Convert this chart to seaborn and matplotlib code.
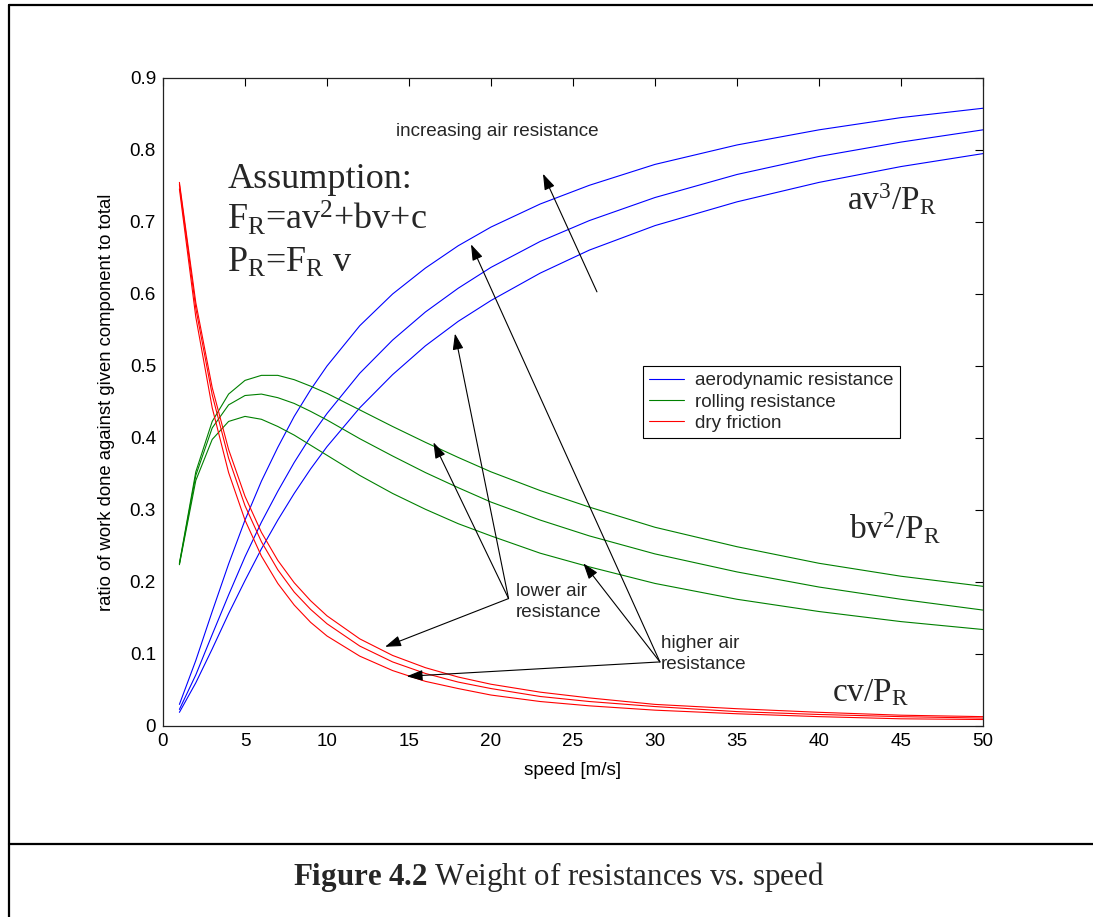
import matplotlib
matplotlib.use("Agg")
import matplotlib.pyplot as plt
import seaborn as sns
import pandas as pd
from matplotlib.lines import Line2D

# ---------------- data ----------------
speed = [1, 2, 3, 4, 5, 6, 7, 8, 9, 10, 12, 14, 16, 18, 20, 23, 26, 30, 35, 40, 45, 50]

# aerodynamic resistance share  a v^3 / P_R
aero_low  = [0.019, 0.060, 0.107, 0.156, 0.202, 0.246, 0.286, 0.323, 0.357, 0.388, 0.442,
             0.488, 0.528, 0.562, 0.591, 0.629, 0.661, 0.695, 0.728, 0.755, 0.777, 0.795]
aero_mid  = [0.023, 0.071, 0.127, 0.182, 0.235, 0.283, 0.326, 0.366, 0.402, 0.434, 0.490,
             0.536, 0.575, 0.608, 0.637, 0.673, 0.702, 0.734, 0.766, 0.791, 0.811, 0.828]
aero_high = [0.030, 0.091, 0.159, 0.225, 0.286, 0.340, 0.387, 0.430, 0.467, 0.500, 0.556,
             0.600, 0.636, 0.667, 0.693, 0.725, 0.751, 0.780, 0.807, 0.828, 0.845, 0.858]

# rolling resistance share  b v^2 / P_R
roll_low  = [0.226, 0.353, 0.423, 0.461, 0.480, 0.487, 0.487, 0.481, 0.472, 0.462, 0.439,
             0.416, 0.394, 0.373, 0.353, 0.327, 0.304, 0.276, 0.249, 0.226, 0.208, 0.194]
roll_mid  = [0.225, 0.348, 0.414, 0.446, 0.459, 0.461, 0.456, 0.448, 0.437, 0.425, 0.399,
             0.375, 0.352, 0.331, 0.311, 0.286, 0.264, 0.239, 0.214, 0.193, 0.176, 0.161]
roll_high = [0.224, 0.341, 0.398, 0.423, 0.430, 0.426, 0.416, 0.404, 0.390, 0.376, 0.348,
             0.323, 0.301, 0.281, 0.264, 0.240, 0.221, 0.198, 0.176, 0.159, 0.145, 0.134]

# dry friction share  c v / P_R
fric_low  = [0.755, 0.588, 0.470, 0.384, 0.319, 0.269, 0.230, 0.199, 0.174, 0.153, 0.121,
             0.098, 0.081, 0.068, 0.058, 0.047, 0.039, 0.030, 0.024, 0.019, 0.015, 0.013]
fric_mid  = [0.752, 0.580, 0.460, 0.372, 0.306, 0.256, 0.217, 0.186, 0.162, 0.142, 0.111,
             0.089, 0.073, 0.061, 0.052, 0.041, 0.034, 0.027, 0.020, 0.016, 0.013, 0.011]
fric_high = [0.746, 0.568, 0.442, 0.352, 0.286, 0.236, 0.198, 0.168, 0.144, 0.125, 0.097,
             0.077, 0.062, 0.052, 0.043, 0.034, 0.028, 0.022, 0.017, 0.013, 0.010, 0.009]

legend_labels = ["aerodynamic resistance", "rolling resistance", "dry friction"]
xticks = [0, 5, 10, 15, 20, 25, 30, 35, 40, 45, 50]
yticks = [0, 0.1, 0.2, 0.3, 0.4, 0.5, 0.6, 0.7, 0.8, 0.9]
yticklabels = ["0", "0.1", "0.2", "0.3", "0.4", "0.5", "0.6", "0.7", "0.8", "0.9"]

# ---------------- style ----------------
sns.set_theme(style="white")
plt.rcParams["font.family"] = ["Liberation Sans", "DejaVu Sans"]
plt.rcParams["mathtext.fontset"] = "custom"
plt.rcParams["mathtext.rm"] = "Liberation Serif"
plt.rcParams["mathtext.it"] = "Liberation Serif:italic"
plt.rcParams["mathtext.bf"] = "Liberation Serif:bold"

SMALL = 13.6

fig = plt.figure(figsize=(10.93, 9.17), dpi=100)
fig.patch.set_facecolor("white")
ax = fig.add_axes([163 / 1093, 191 / 917, 820 / 1093, 648 / 917])
ax.set_facecolor("white")

groups = [
    ([aero_low, aero_mid, aero_high], "#0000ff"),
    ([roll_low, roll_mid, roll_high], "#008000"),
    ([fric_low, fric_mid, fric_high], "#ff0000"),
]
for series_list, col in groups:
    for vals in series_list:
        df = pd.DataFrame({"speed": speed, "ratio": vals})
        sns.lineplot(data=df, x="speed", y="ratio", color=col, lw=0.8, ax=ax,
                     legend=False, sort=False)

ax.set_xlim(0, 50)
ax.set_ylim(0, 0.9)
ax.set_xticks(xticks)
ax.set_xticklabels([str(t) for t in xticks])
ax.set_yticks(yticks)
ax.set_yticklabels(yticklabels)
ax.tick_params(direction="in", length=6, width=0.8, top=True, right=True,
               labelsize=SMALL, pad=5, colors="black")
for sp in ax.spines.values():
    sp.set_color("#222222")
    sp.set_linewidth(0.9)

ax.set_xlabel("speed [m/s]", fontsize=SMALL, color="black")
ax.set_ylabel("ratio of work done against given component to total", fontsize=13.3, color="black")
ax.xaxis.set_label_coords(0.5, -0.055)
ax.yaxis.set_label_coords(-0.058, 0.5)

# legend
handles = [Line2D([], [], color=c, lw=0.8) for _, c in groups]
leg = ax.legend(handles, legend_labels, loc="upper left", bbox_to_anchor=(0.585, 0.556),
                borderaxespad=0, fontsize=SMALL, frameon=True, fancybox=False,
                edgecolor="black", framealpha=1, handlelength=1.85, handletextpad=0.6,
                labelspacing=0.22, borderpad=0.33)
leg.get_frame().set_linewidth(0.8)

# formula texts
serif = ["Liberation Serif", "DejaVu Serif"]
ax.text(3.92, 0.747, "Assumption:", fontsize=26, family=serif, va="baseline")
ax.text(3.92, 0.689, r"F$_\mathrm{R}$=av$^\mathrm{2}$+bv+c", fontsize=26, family=serif, va="baseline")
ax.text(3.92, 0.631, r"P$_\mathrm{R}$=F$_\mathrm{R}$ v", fontsize=26, family=serif, va="baseline")
ax.text(41.7, 0.716, r"av$^\mathrm{3}$/P$_\mathrm{R}$", fontsize=24, family=serif, va="baseline")
ax.text(41.85, 0.259, r"bv$^\mathrm{2}$/P$_\mathrm{R}$", fontsize=24, family=serif, va="baseline")
ax.text(40.77, 0.035, r"cv/P$_\mathrm{R}$", fontsize=24, family=serif, va="baseline")

# annotation labels
ax.text(14.21, 0.826, "increasing air resistance", fontsize=SMALL, va="center", ha="left")
ax.text(21.5, 0.198, "lower air\nresistance", fontsize=SMALL, va="top", ha="left", linespacing=1.3)
ax.text(30.37, 0.126, "higher air\nresistance", fontsize=SMALL, va="top", ha="left", linespacing=1.3)

arrow_kw = dict(arrowstyle="-|>,head_length=0.65,head_width=0.22", color="black",
                lw=0.8, mutation_scale=15, shrinkA=0, shrinkB=0)
arrows = [
    ((26.46, 0.603), (23.17, 0.767)),
    ((21.07, 0.177), (16.49, 0.394)),
    ((21.07, 0.177), (17.80, 0.545)),
    ((21.07, 0.177), (13.54, 0.110)),
    ((30.30, 0.089), (18.78, 0.669)),
    ((30.30, 0.089), (25.63, 0.226)),
    ((30.30, 0.089), (14.86, 0.069)),
]
for tail, head in arrows:
    ax.annotate("", xy=head, xytext=tail, arrowprops=arrow_kw)

# outer frame and caption
lk = dict(transform=fig.transFigure, color="black", lw=1.6)
fig.add_artist(Line2D([8.5 / 1093, 1.0], [1 - 5 / 917, 1 - 5 / 917], **lk))
fig.add_artist(Line2D([8.5 / 1093, 8.5 / 1093], [0, 1 - 5 / 917], **lk))
fig.add_artist(Line2D([8.5 / 1093, 1.0], [1 - 844 / 917, 1 - 844 / 917], **lk))
fig.text(559 / 1093, 1 - 877 / 917, r"$\mathbf{Figure\ 4.2}$ Weight of resistances vs. speed",
         fontsize=22.3, family=serif, ha="center", va="center")

fig.savefig("out.png", dpi=100)
